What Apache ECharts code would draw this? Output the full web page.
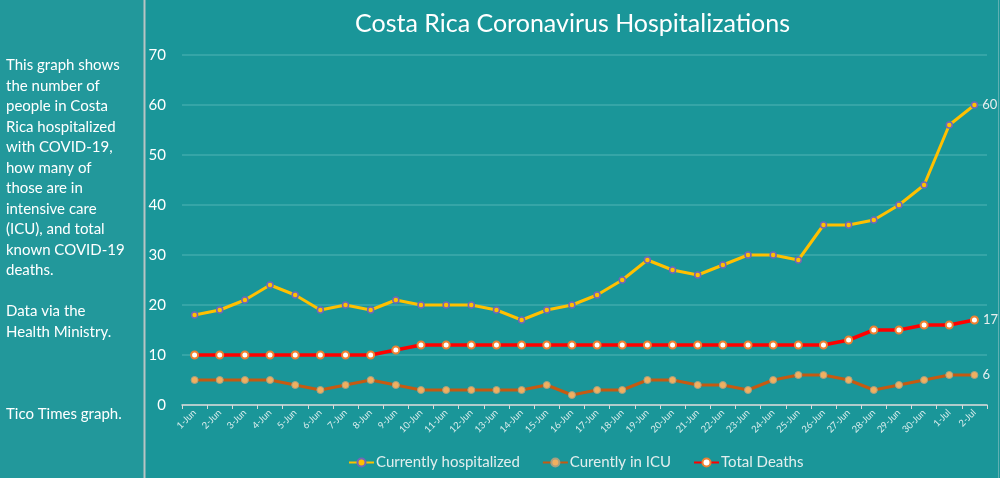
<!DOCTYPE html>
<html><head><meta charset="utf-8">
<script src="https://cdn.jsdelivr.net/npm/echarts@6/dist/echarts.min.js"></script>
<style>html,body{margin:0;padding:0;background:#1a9699}#c{width:1000px;height:478px}</style>
</head><body><div id="c"></div>
<script>
const categories = ['1-Jun','2-Jun','3-Jun','4-Jun','5-Jun','6-Jun','7-Jun','8-Jun','9-Jun','10-Jun','11-Jun','12-Jun','13-Jun','14-Jun','15-Jun','16-Jun','17-Jun','18-Jun','19-Jun','20-Jun','21-Jun','22-Jun','23-Jun','24-Jun','25-Jun','26-Jun','27-Jun','28-Jun','29-Jun','30-Jun','1-Jul','2-Jul'];
const hospitalized = [18,19,21,24,22,19,20,19,21,20,20,20,19,17,19,20,22,25,29,27,26,28,30,30,29,36,36,37,40,44,56,60];
const icu = [5,5,5,5,4,3,4,5,4,3,3,3,3,3,4,2,3,3,5,5,4,4,3,5,6,6,5,3,4,5,6,6];
const deaths = [10,10,10,10,10,10,10,10,11,12,12,12,12,12,12,12,12,12,12,12,12,12,12,12,12,12,13,15,15,16,16,17];
const seriesNames = ['Currently hospitalized','Curently in ICU','Total Deaths'];
const yTicks = {min:0, max:70, interval:10};
const titleText = 'Costa Rica Coronavirus Hospitalizations';
const sideText = 'This graph shows\nthe number of\npeople in Costa\nRica hospitalized\nwith COVID-19,\nhow many of\nthose are in\nintensive care\n(ICU), and total\nknown COVID-19\ndeaths.\n\nData via the\nHealth Ministry.\n\n\n\nTico Times graph.';

const last = categories.length - 1;
const endLabel = {
  show: true, position: 'right', distance: 4, color: '#e8eeee', fontSize: 13, fontFamily: 'Lato',
  formatter: p => p.dataIndex === last ? String(p.value) : ''
};
const chart = echarts.init(document.getElementById('c'));
chart.setOption({
  backgroundColor: '#1a9699',
  animation: false,
  graphic: [
    {type:'rect', left:0, top:0, shape:{width:144, height:478}, style:{fill:'#22989b'}, z:-1},
    {type:'line', shape:{x1:144.5, y1:0, x2:144.5, y2:478}, style:{stroke:'#b8c4c4', lineWidth:2}},
    {type:'line', shape:{x1:998.5, y1:0, x2:998.5, y2:478}, style:{stroke:'#5fb0b2', lineWidth:1}}
  ],
  title: [
    {text: titleText, left: 350, top: 6, textStyle: {color:'#ffffff', fontSize: 25, fontWeight: 'normal', fontFamily: 'Lato'}},
    {text: sideText, left: 6, top: 55, padding: 0, textStyle: {color:'#ffffff', fontSize: 15, lineHeight: 20.5, fontWeight: 'normal', fontFamily: 'Lato'}}
  ],
  legend: {
    left: 343, top: 450, itemWidth: 25, itemHeight: 10, itemGap: 22,
    textStyle: {color:'#e2eeee', fontSize: 15, fontFamily: 'Lato', padding: [0,0,0,-3]},
    data: seriesNames
  },
  grid: {left: 182, right: 13, top: 55, bottom: 73},
  xAxis: {
    type: 'category', data: categories, boundaryGap: true,
    axisLine: {lineStyle: {color: '#d9d9d9', width: 1.5}},
    axisTick: {show: true, length: 4, lineStyle: {color: '#d9d9d9'}},
    axisLabel: {rotate: 45, color: '#d8ecec', fontSize: 9.5, fontFamily: 'Lato', margin: 6, interval: 0}
  },
  yAxis: {
    type: 'value', min: yTicks.min, max: yTicks.max, interval: yTicks.interval,
    axisLine: {show: false}, axisTick: {show: false},
    axisLabel: {color: '#ffffff', fontSize: 15, fontFamily: 'Lato', margin: 16},
    splitLine: {lineStyle: {color: '#3faaac', width: 1.5}}
  },
  series: [
    {name: seriesNames[0], type: 'line', data: hospitalized, symbol: 'circle', symbolSize: 6,
     lineStyle: {color: '#ffc000', width: 3}, itemStyle: {color: '#ffc000', borderColor: '#7466b8', borderWidth: 1.5},
     label: endLabel, z: 3},
    {name: seriesNames[1], type: 'line', data: icu, symbol: 'circle', symbolSize: 7,
     lineStyle: {color: '#c55a11', width: 3}, itemStyle: {color: '#f0b060', borderColor: '#a8a080', borderWidth: 1},
     label: endLabel, z: 2},
    {name: seriesNames[2], type: 'line', data: deaths, symbol: 'circle', symbolSize: 7,
     lineStyle: {color: '#ff0000', width: 3.5}, itemStyle: {color: '#ffffff', borderColor: '#f08030', borderWidth: 2},
     label: endLabel, z: 4}
  ]
});
</script></body></html>
